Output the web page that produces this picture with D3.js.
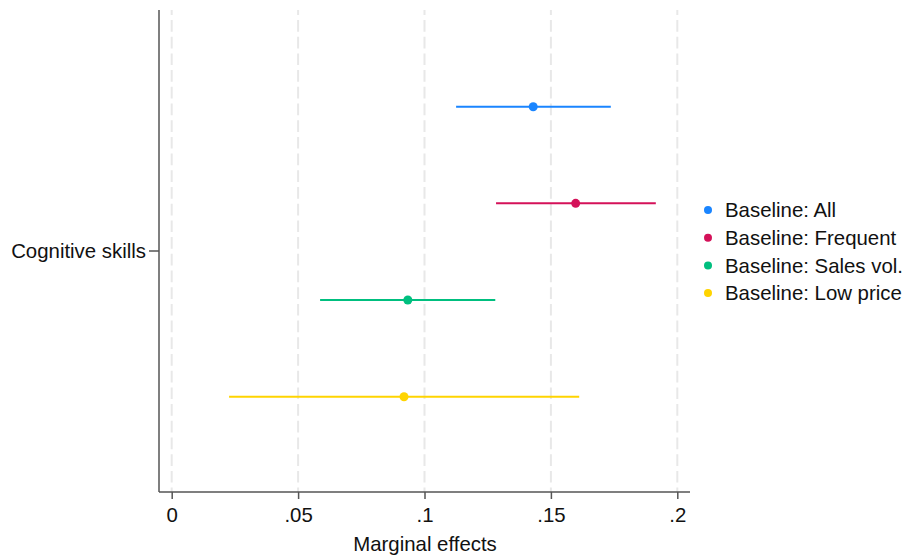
<!DOCTYPE html>
<html>
<head>
<meta charset="utf-8">
<script src="https://cdn.jsdelivr.net/npm/d3@7"></script>
<style>
  body { margin: 0; background: #fff; }
  text { font-family: "Liberation Sans", Arial, Helvetica, sans-serif; fill: #111; }
</style>
</head>
<body>
<svg id="chart" width="905" height="556"></svg>
<script>
(function (d3) {

    // data
    const series = ['Baseline: All', 'Baseline: Frequent', 'Baseline: Sales vol.', 'Baseline: Low price'];
    const estimates = [0.1430, 0.1598, 0.0934, 0.0919];
    const lowerCI = [0.1125, 0.1283, 0.0587, 0.0227];
    const upperCI = [0.1737, 0.1915, 0.1280, 0.1612];
    const colors = ['#1a85ff', '#d41159', '#00bf7f', '#ffd400'];
    const xTicks = [0, 0.05, 0.1, 0.15, 0.2];
    const yLabel = 'Cognitive skills';

    const FONT = 20.4;
    const left = 159, right = 690, top = 10, bottom = 492;

    let svg = d3.select('#chart');

    let x = d3.scaleLinear().domain([0, 0.2]).range([171.7, 677.3]);
    let y = d3.scalePoint().domain(series).range([106.7, 396.7]);

    // dashed gridlines
    svg.append('g').selectAll('line.grid')
        .data(xTicks)
        .enter().append('line')
        .classed('grid', true)
        .attr('x1', (d) => x(d)).attr('x2', (d) => x(d))
        .attr('y1', top).attr('y2', bottom)
        .attr('stroke', '#e8e8e8')
        .attr('stroke-width', 2)
        .attr('stroke-dasharray', '11.7,5')
        .attr('stroke-dashoffset', 6.7);

    // x axis
    let xAxis = d3.axisBottom(x)
        .tickValues(xTicks)
        .tickSize(7)
        .tickPadding(9)
        .tickFormat((d) => d === 0 ? '0' : d3.format('.2~f')(d).replace(/^0/, ''));

    let gx = svg.append('g')
        .attr('transform', `translate(0,${bottom})`)
        .call(xAxis);
    gx.select('.domain').remove();
    gx.append('line')
        .attr('x1', left).attr('x2', right)
        .attr('stroke', '#555').attr('stroke-width', 1.5);
    gx.selectAll('.tick line').attr('stroke', '#555').attr('stroke-width', 1.5);
    gx.selectAll('.tick text')
        .attr('font-size', FONT)
        .attr('font-family', '"Liberation Sans", Arial, sans-serif')
        .attr('fill', '#111');

    // y axis: single category tick in the middle
    svg.append('line')
        .attr('x1', left).attr('x2', left)
        .attr('y1', top).attr('y2', bottom)
        .attr('stroke', '#555').attr('stroke-width', 1.5);
    let midY = (top + bottom) / 2;
    svg.append('line')
        .attr('x1', left - 10).attr('x2', left)
        .attr('y1', midY).attr('y2', midY)
        .attr('stroke', '#555').attr('stroke-width', 1.5);
    svg.append('text')
        .attr('x', left - 13).attr('y', midY)
        .attr('dy', '0.35em')
        .attr('text-anchor', 'end')
        .attr('font-size', FONT)
        .text(yLabel);

    svg.append('text')
        .attr('x', (left + right) / 2 + 0.5).attr('y', 551)
        .attr('text-anchor', 'middle')
        .attr('font-size', FONT)
        .text('Marginal effects');

    // CIs + point estimates
    let rows = series.map((s, i) => ({name: s, est: estimates[i], lo: lowerCI[i], hi: upperCI[i], color: colors[i]}));

    let g = svg.append('g').selectAll('g.row')
        .data(rows)
        .enter().append('g').classed('row', true);

    g.append('line')
        .attr('x1', (d) => x(d.lo)).attr('x2', (d) => x(d.hi))
        .attr('y1', (d) => y(d.name)).attr('y2', (d) => y(d.name))
        .attr('stroke', (d) => d.color)
        .attr('stroke-width', 2);

    g.append('circle')
        .attr('cx', (d) => x(d.est)).attr('cy', (d) => y(d.name))
        .attr('r', 4.5)
        .attr('fill', (d) => d.color);

    // legend
    let legend = svg.append('g').selectAll('g.key')
        .data(rows)
        .enter().append('g').classed('key', true)
        .attr('transform', (d, i) => `translate(708,${210 + i * 27.7})`);

    legend.append('circle').attr('r', 4).attr('fill', (d) => d.color);
    legend.append('text')
        .attr('x', 17).attr('dy', '0.35em')
        .attr('font-size', FONT)
        .text((d) => d.name);

})(d3)
</script>
</body>
</html>
